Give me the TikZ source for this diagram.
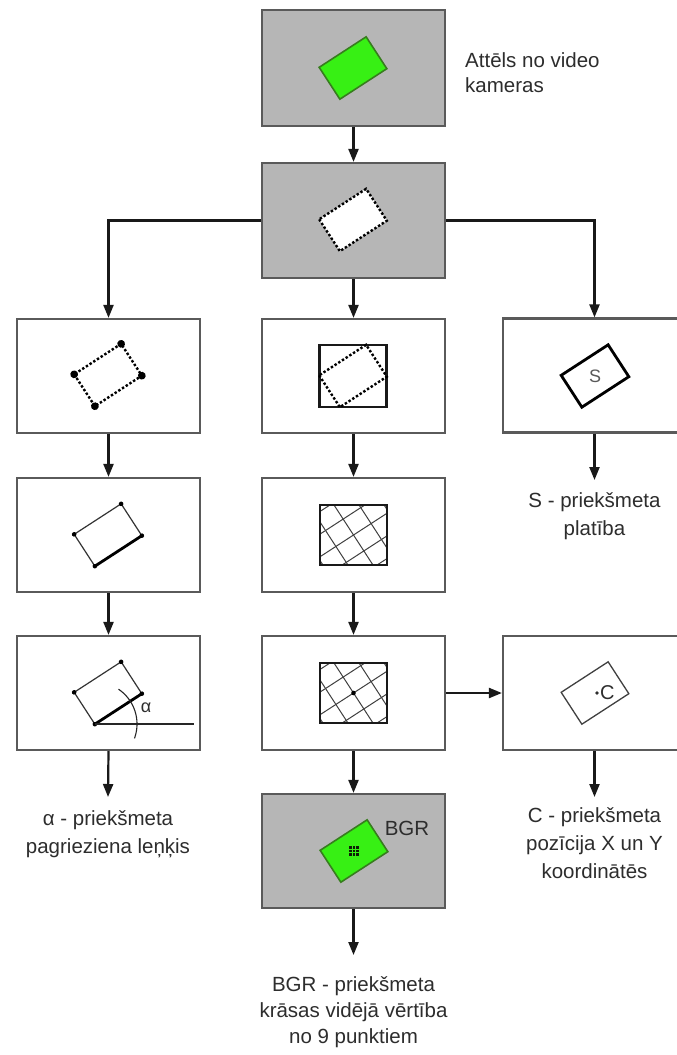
\documentclass[tikz,border=0pt]{standalone}
\usepackage{fontspec}
\setmainfont{Liberation Sans}
\usetikzlibrary{arrows.meta,calc}
\definecolor{boxgray}{RGB}{182,182,182}
\definecolor{edgegray}{RGB}{90,90,90}
\definecolor{objgreen}{RGB}{55,240,20}
\definecolor{objedge}{RGB}{55,125,30}
\definecolor{txtgray}{RGB}{45,45,45}
\tikzset{
  panel/.style={draw=edgegray, line width=2.2pt, fill=white, minimum width=183pt, minimum height=114pt, inner sep=0pt},
  graypanel/.style={panel, fill=boxgray},
  arr/.style={draw=black!90, line width=2.2pt, -{Triangle[length=13pt,width=10pt]}},
  lbl/.style={font=\fontsize{20.5}{28}\selectfont, text=txtgray, align=center, inner sep=0pt, anchor=north},
  greenobj/.style={fill=objgreen, draw=objedge, line width=1.6pt},
  dashobj/.style={draw=black, line width=2.4pt, dash pattern=on 2.4pt off 2pt},
  thinobj/.style={draw=black!80, line width=1.2pt},
  hatchline/.style={draw=black!75, line width=1pt},
  sq/.style={draw=black!90, line width=2.2pt}
}
\newcommand{\objrect}[3]{\path[#3, shift={(#1,#2)}, rotate=33] (-28,-19) rectangle (28,19);}
\newcommand{\cornerdots}[3]{\foreach \p in {(-28,-19),(28,-19),(28,19),(-28,19)} \fill[black, shift={(#1,#2)}, rotate=33] \p circle (#3);}
\newcommand{\hatchsq}[2]{%
  \begin{scope}
    \clip (#1-33.5,#2-30) rectangle (#1+33.5,#2+30);
    \foreach \k in {-38,-19,0,19,38} \draw[hatchline, shift={(#1,#2)}, rotate=33] (-70,\k) -- (70,\k);
    \foreach \k in {-42,-21,0,21,42} \draw[hatchline, shift={(#1,#2)}, rotate=33] (\k,-70) -- (\k,70);
  \end{scope}
  \draw[sq] (#1-33.5,#2-30) rectangle (#1+33.5,#2+30);}
\begin{document}
\begin{tikzpicture}[x=1pt,y=-1pt]
\useasboundingbox (0,0) rectangle (677,1055);
\clip (0,0) rectangle (677,1055);
\fill[white] (0,0) rectangle (677,1055);

% boxes
\node[graypanel, minimum height=116pt] (cam) at (353.5,68) {};
\node[graypanel, minimum height=115pt] (seg) at (353.5,220.5) {};
\node[panel] (l1) at (108.5,376) {};
\node[panel] (c1) at (353.5,376) {};
\node[panel] (r1) at (594.5,375.5) {};
\node[panel] (l2) at (108.5,535) {};
\node[panel] (c2) at (353.5,535) {};
\node[panel] (l3) at (108.5,693) {};
\node[panel] (c3) at (353.5,693) {};
\node[panel] (r3) at (594.5,693) {};
\node[graypanel] (bgr) at (353.5,851) {};

% labels
\node[lbl, anchor=north west, align=left, font=\fontsize{20.5}{25}\selectfont] (camtxt) at (465,52.5) {Attēls no video\\kameras};
\node[lbl] (stxt) at (594.5,492) {S - priekšmeta\\platība};
\node[lbl] (atxt) at (108,810) {α - priekšmeta\\pagrieziena leņķis};
\node[lbl] (ctxt) at (594.5,807) {C - priekšmeta\\pozīcija X un Y\\koordinātēs};
\node[lbl, font=\fontsize{20.5}{26}\selectfont] (btxt) at (353.5,976) {BGR - priekšmeta\\krāsas vidējā vērtība\\no 9 punktiem};

% camera object
\objrect{353}{68}{greenobj}
% segmented object
\objrect{353}{220}{fill=white}
\objrect{353}{220}{dashobj}
% row 3 left: corners
\objrect{108}{375}{dashobj}
\cornerdots{108}{375}{3.9}
% row 3 centre: bounding box
\draw[sq] (319.5,345) rectangle (386.5,407);
\objrect{353}{376}{dashobj}
% row 3 right: area
\objrect{595}{376}{draw=black, line width=2.8pt}
\node[font=\fontsize{18}{18}\selectfont, text=black!65, inner sep=0pt] (slbl) at (595,376) {S};
% row 4 left
\objrect{108}{535}{thinobj}
\draw[black, line width=2.8pt, shift={(108,535)}, rotate=33] (-28,19) -- (28,19);
\cornerdots{108}{535}{2.3}
% row 4 centre
\hatchsq{353.5}{535}
% row 5 left
\objrect{108}{693}{thinobj}
\draw[black, line width=2.8pt, shift={(108,693)}, rotate=33] (-28,19) -- (28,19);
\cornerdots{108}{693}{2.3}
\draw[black!85, line width=2.2pt] (95,724) -- (194,724);
\draw[black!85, line width=1.1pt] plot[domain=-20:56, samples=40] ({95+42*cos(\x)},{724-42*sin(\x)});
\node[font=\fontsize{18}{18}\selectfont, text=txtgray, inner sep=0pt] (alpha) at (146,708) {α};
% row 5 centre
\hatchsq{353.5}{693}
\fill[black] (353.5,693) circle (2.3);
% row 5 right
\objrect{595}{693}{draw=black!75, line width=1.3pt}
\fill[txtgray] (597,693) circle (1.8);
\node[font=\fontsize{20}{20}\selectfont, text=txtgray, inner sep=0pt, anchor=west] (clbl) at (600,693) {C};
% BGR object
\objrect{354}{851}{greenobj}
\foreach \i in {-1,0,1} \foreach \j in {-1,0,1}
  \fill[black!75!objedge] (354+3.6*\i-1.4,851+3.6*\j-1.4) rectangle ++(2.8,2.8);
\node[font=\fontsize{20.5}{20.5}\selectfont, text=txtgray, inner sep=0pt] (bgrlbl) at (407,828) {BGR};

% connectors
\draw[arr] (cam.south) -- (seg.north);
\draw[arr] (seg.west) -| (l1.north);
\draw[arr] (seg.south) -- (c1.north);
\draw[arr] (seg.east) -| (r1.north);
\draw[arr] (l1.south) -- (l2.north);
\draw[arr] (l2.south) -- (l3.north);
\draw[arr] (l3.south) -- ($(atxt.north)+(0,-13)$);
\draw[arr] (c1.south) -- (c2.north);
\draw[arr] (c2.south) -- (c3.north);
\draw[arr] (c3.south) -- (bgr.north);
\draw[arr] (bgr.south) -- ($(btxt.north)+(0,-21)$);
\draw[arr] (c3.east) -- (r3.west);
\draw[arr] (r3.south) -- ($(ctxt.north)+(0,-10)$);
\draw[arr] (r1.south) -- ($(stxt.north)+(0,-12)$);
\end{tikzpicture}
\end{document}
